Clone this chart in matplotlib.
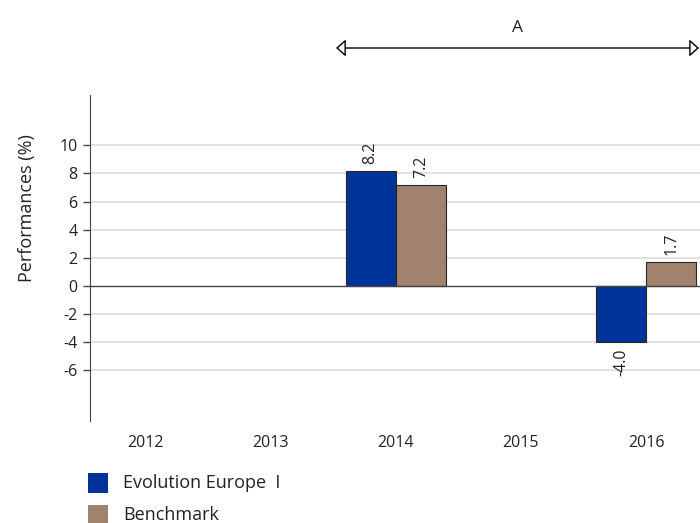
import numpy as np
import matplotlib
matplotlib.use("Agg")
import matplotlib.pyplot as plt
from matplotlib.patches import Rectangle

plt.rcParams['font.family'] = ['Open Sans', 'DejaVu Sans']

categories = ['2012', '2013', '2014', '2015', '2016']
fund = [np.nan, np.nan, 8.2, np.nan, -4.0]
bench = [np.nan, np.nan, 7.2, np.nan, 1.7]
series_names = ['Evolution Europe  I', 'Benchmark']
yticks = [-6, -4, -2, 0, 2, 4, 6, 8, 10]
colors = ['#003399', '#A0826D']

fig = plt.figure(figsize=(7.0, 5.23), dpi=100)
ax = fig.add_axes([90/700, 1-420.7/523, 1-90/700, (420.7-95)/523])

x = np.arange(len(categories))
w = 0.4
for vals, off, c in [(fund, -w/2, colors[0]), (bench, w/2, colors[1])]:
    v = np.array(vals, dtype=float)
    m = ~np.isnan(v)
    ax.bar(x[m] + off, v[m], width=w, color=c, edgecolor='#262626', linewidth=0.8, zorder=3)
    for xi, vi in zip(x[m] + off, v[m]):
        if vi >= 0:
            ax.text(xi, vi + 0.5, f'{vi:.1f}', rotation=90, ha='center', va='bottom', fontsize=11.5, color='#222222')
        else:
            ax.text(xi, vi - 0.5, f'{vi:.1f}', rotation=90, ha='center', va='top', fontsize=11.5, color='#222222')

ax.set_xlim(-0.443, 4.431)
ax.set_ylim(-9.64, 13.6)
ax.set_yticks(yticks)
ax.set_yticklabels([str(t) for t in yticks], fontsize=11.5, color='#222222')
ax.set_xticks(x)
ax.set_xticklabels(categories, fontsize=11.5, color='#222222')
ax.tick_params(axis='x', length=0, pad=10)
ax.tick_params(axis='y', length=5, width=1, color='#444444', pad=4)
for t in yticks:
    if t != 0:
        ax.axhline(t, color='#DDDDDD', linewidth=1.2, zorder=1)
ax.axhline(0, color='#444444', linewidth=1.0, zorder=4)
for s in ['top', 'right', 'bottom']:
    ax.spines[s].set_visible(False)
ax.spines['left'].set_color('#444444')
fig.text(27/700, 1-208/523, 'Performances (%)', rotation=90, ha='center', va='center',
         fontsize=13, color='#222222')

# Arrow annotation
ya = 1 - 48/523
ax.annotate('', xy=(1.523, ya), xytext=(4.423, ya),
            xycoords=('data', 'figure fraction'), textcoords=('data', 'figure fraction'),
            arrowprops=dict(arrowstyle='<|-|>,head_length=0.58,head_width=0.52', fc='white', ec='black',
                            lw=1.0, shrinkA=0, shrinkB=0),
            annotation_clip=False)
ax.annotate('A', xy=((1.523 + 4.423) / 2, 1-28/523), xycoords=('data', 'figure fraction'),
            ha='center', va='center', fontsize=12.5, color='#222222', annotation_clip=False)

# Legend
for i, (name, c) in enumerate(zip(series_names, colors)):
    yc = 483 + i*32
    fig.patches.append(Rectangle((88/700, 1-(yc+10)/523), 20/700, 20/523, transform=fig.transFigure,
                                 facecolor=c, edgecolor='none'))
    fig.text(123/700, 1-yc/523, name, ha='left', va='center', fontsize=13, color='#222222')

fig.savefig('out.png', dpi=100)
